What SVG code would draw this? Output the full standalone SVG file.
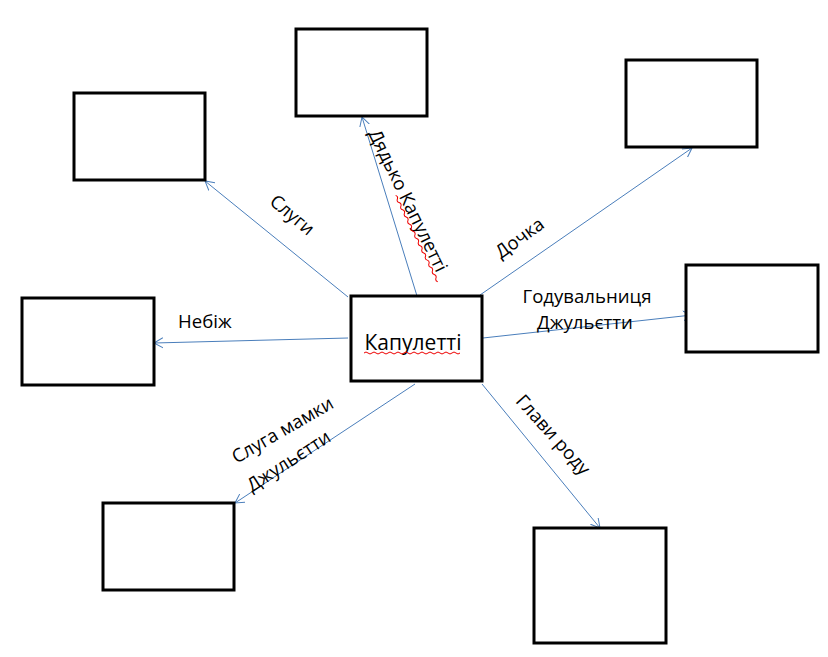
<svg xmlns="http://www.w3.org/2000/svg" width="828" height="657" viewBox="0 0 828 657">
<style>
.box{fill:#fff;stroke:#000;stroke-width:3}
.lbl{font-family:"Open Sans","Liberation Sans",sans-serif;font-size:18.6px;fill:#000}
.con{stroke:#4a7ebb;stroke-width:1;fill:none;marker-end:url(#arr)}
.sq{stroke:#e00;stroke-width:1;fill:none}
</style>
<defs>
<marker id="arr" markerUnits="userSpaceOnUse" markerWidth="12" markerHeight="12" refX="9" refY="5" orient="auto" viewBox="0 0 12 10">
<path d="M0,0 L9,5 L0,10" fill="none" stroke="#4a7ebb" stroke-width="1"/>
</marker>
</defs>
<rect width="828" height="657" fill="#fff"/>
<g id="connectors">
<line class="con" x1="348" y1="297" x2="205" y2="181"/>
<line class="con" x1="348" y1="338" x2="154" y2="343"/>
<line class="con" x1="417" y1="296" x2="362" y2="117"/>
<line class="con" x1="480" y1="295" x2="692" y2="148"/>
<line class="con" x1="483" y1="338" x2="692" y2="315"/>
<line class="con" x1="415" y1="384" x2="235" y2="503"/>
<line class="con" x1="482" y1="384" x2="600" y2="528"/>
</g>
<g id="n-top-left"><rect class="box" x="74" y="93" width="131" height="87"/></g>
<g id="n-top-center"><rect class="box" x="296" y="29" width="131" height="87"/></g>
<g id="n-top-right"><rect class="box" x="626" y="60" width="131" height="87"/></g>
<g id="n-left"><rect class="box" x="22" y="298" width="132" height="87"/></g>
<g id="n-right"><rect class="box" x="686" y="265" width="132" height="87"/></g>
<g id="n-bottom-left"><rect class="box" x="103" y="503" width="131" height="87"/></g>
<g id="n-bottom-right"><rect class="box" x="534" y="528" width="132" height="115"/></g>
<g id="n-center">
<rect class="box" x="351" y="296" width="131" height="85"/>
<text class="lbl" x="413" y="350" text-anchor="middle" style="font-size:21px">Капулетті</text>
<path class="sq" d="M364,353 q2,-2 4,0 t4,0 t4,0 t4,0 t4,0 t4,0 t4,0 t4,0 t4,0 t4,0 t4,0 t4,0 t4,0 t4,0 t4,0 t4,0 t4,0 t4,0 t4,0 t4,0 t4,0 t4,0 t4,0 t4,0"/>
</g>
<g id="labels">
<text class="lbl" text-anchor="middle" dominant-baseline="central" transform="translate(293,214) rotate(40)">Слуги</text>
<text class="lbl" x="178" y="328">Небіж</text>
<g transform="translate(409,200) rotate(64)">
<text class="lbl" text-anchor="middle" dominant-baseline="central">Дядько Капулетті</text>
<path class="sq" d="M-10,10 q2,-2 4,0 t4,0 t4,0 t4,0 t4,0 t4,0 t4,0 t4,0 t4,0 t4,0 t4,0 t4,0 t4,0 t4,0 t4,0 t4,0 t4,0 t4,0 t4,0 t4,0 t4,0 t4,0 t4,0 t4,0"/>
</g>
<text class="lbl" text-anchor="middle" dominant-baseline="central" transform="translate(519,237) rotate(-36)">Дочка</text>
<text class="lbl" x="587" y="303" text-anchor="middle">Годувальниця</text>
<text class="lbl" x="585" y="329" text-anchor="middle">Джульєтти</text>
<text class="lbl" text-anchor="middle" dominant-baseline="central" transform="translate(282,429) rotate(-30)">Слуга мамки</text>
<text class="lbl" text-anchor="middle" dominant-baseline="central" transform="translate(288,460) rotate(-33)">Джульєтти</text>
<text class="lbl" text-anchor="middle" dominant-baseline="central" transform="translate(554,434) rotate(48)">Глави роду</text>
</g>
</svg>
